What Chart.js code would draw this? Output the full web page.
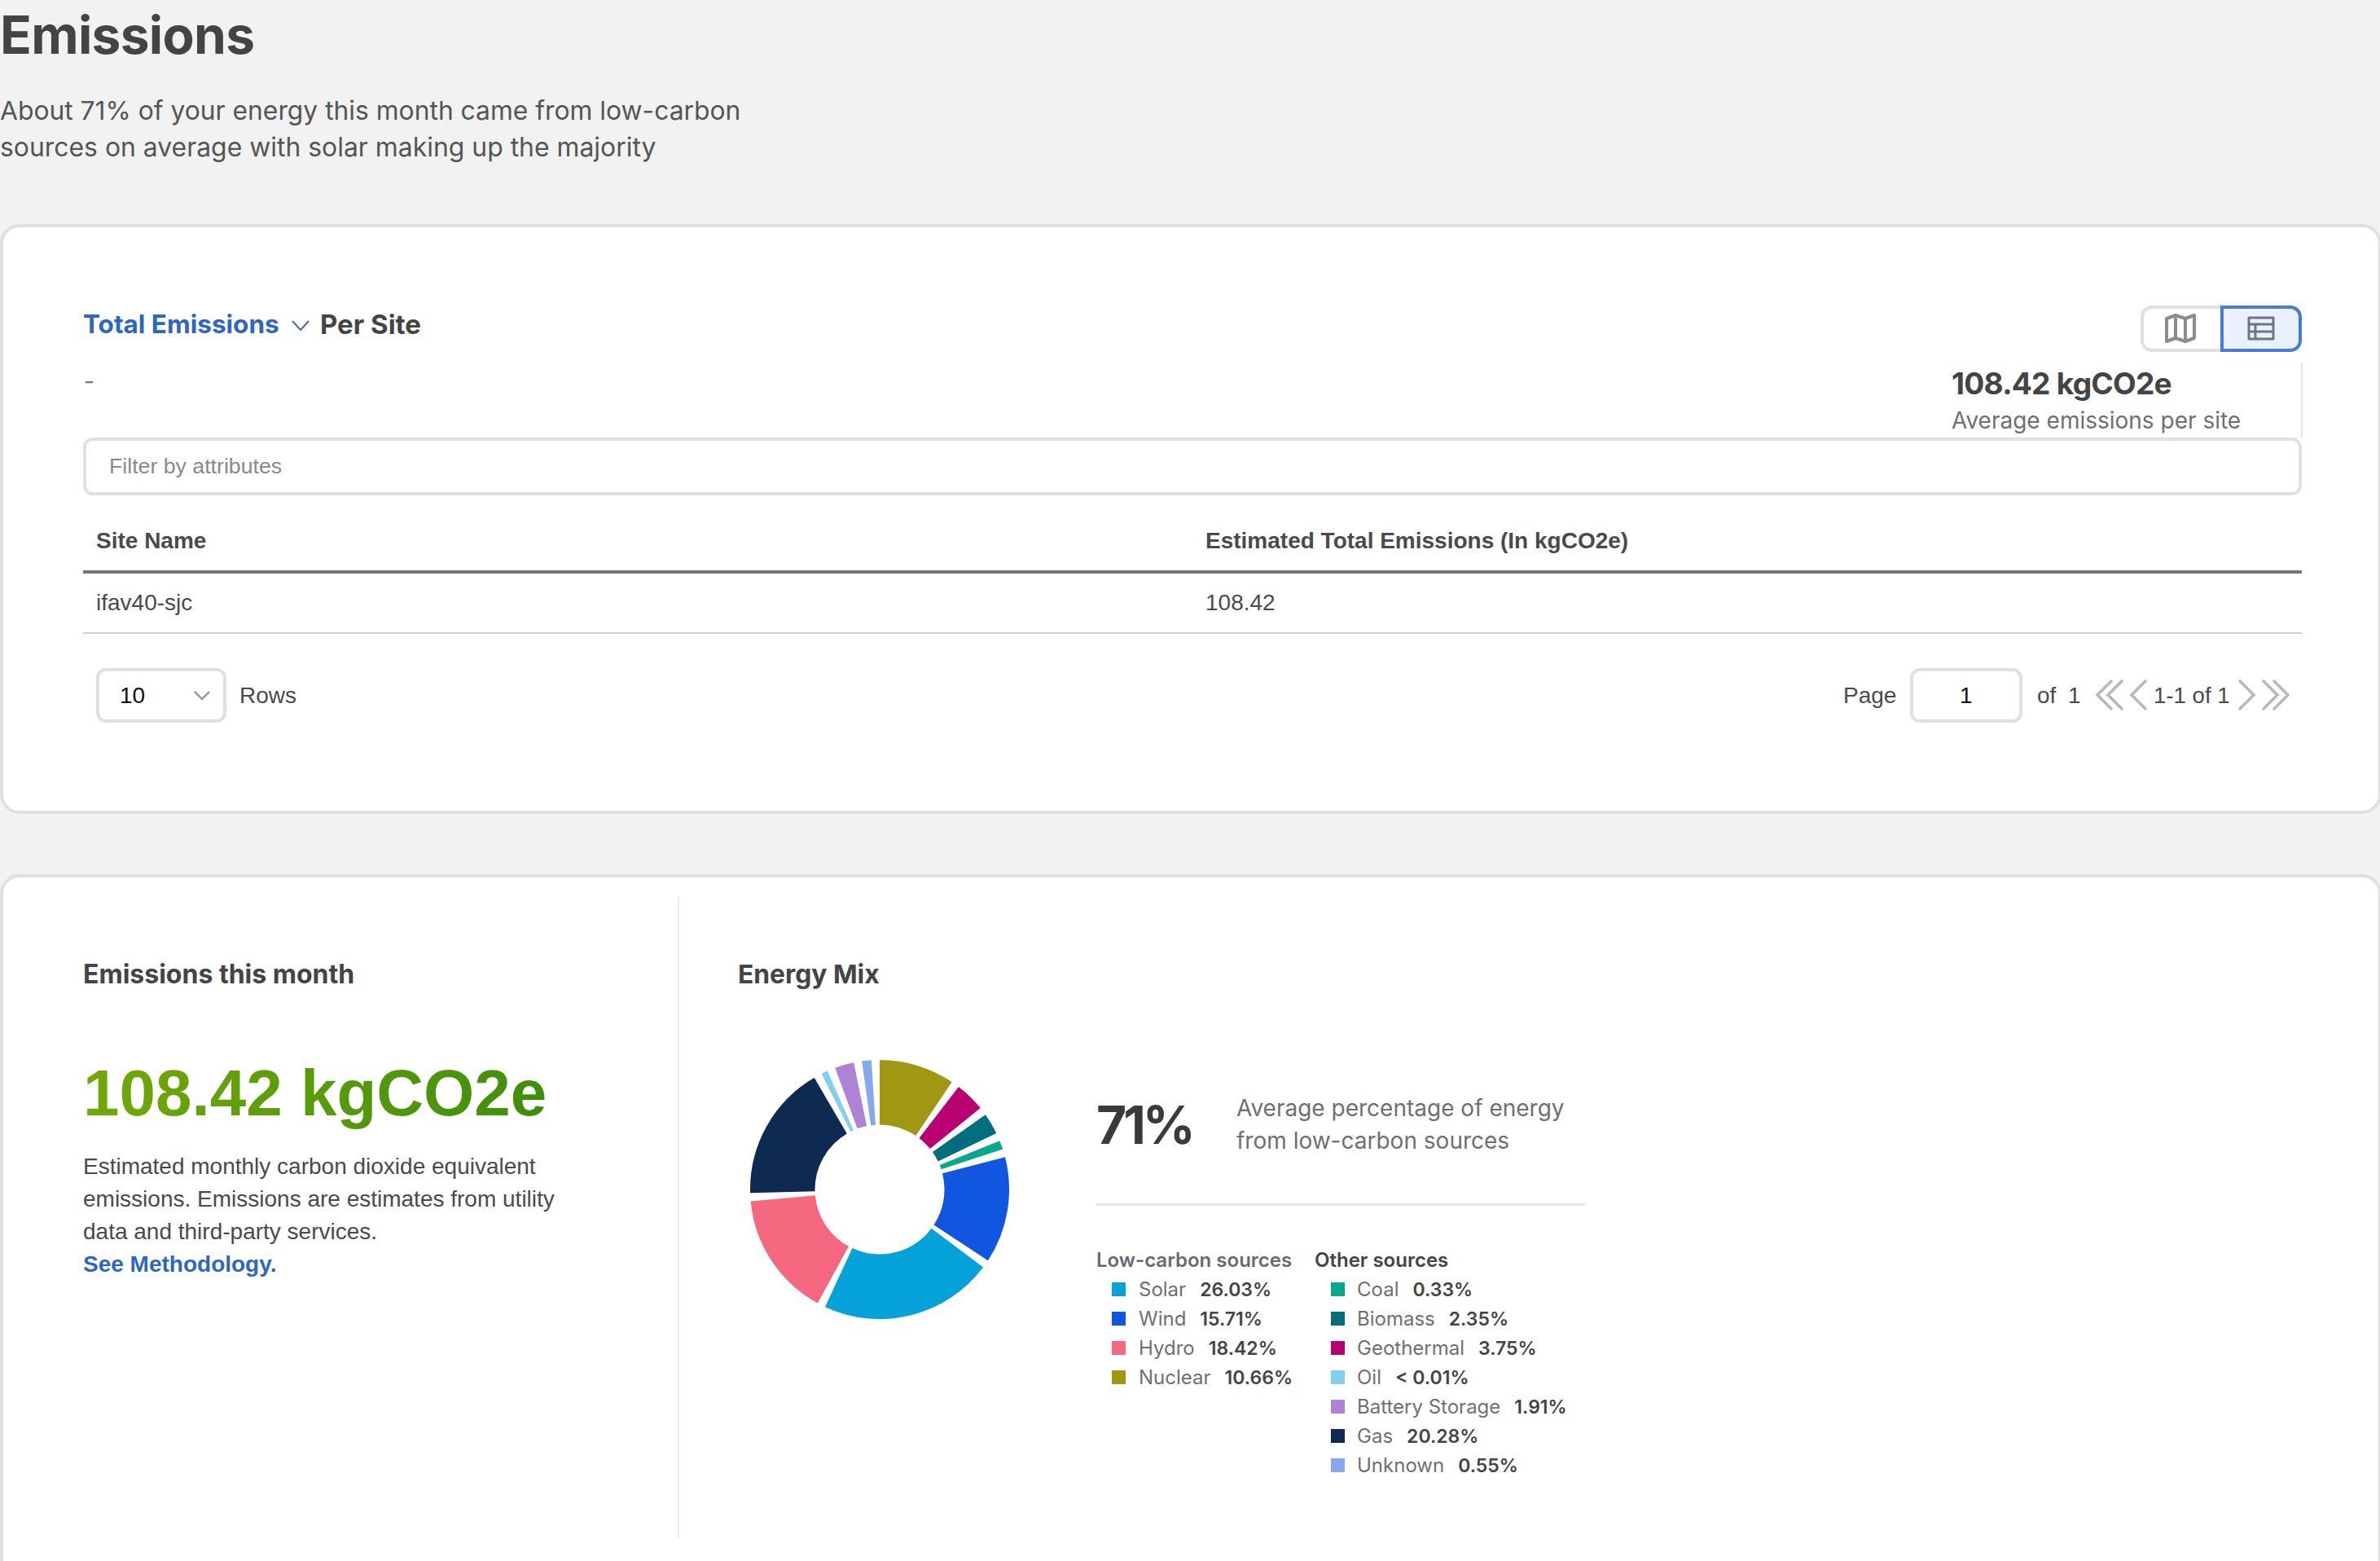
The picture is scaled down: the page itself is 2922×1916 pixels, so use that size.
<!DOCTYPE html>
<html>
<head>
<meta charset="utf-8">
<title>Emissions</title>
<script src="https://cdn.jsdelivr.net/npm/chart.js@4"></script>
<style>
html, body { margin: 0; padding: 0; }
body { width: 2922px; height: 1916px; position: relative; overflow: hidden; background: #f2f2f2; color: #444; font-family: Inter, sans-serif; }
.t { position: absolute; white-space: nowrap; line-height: 1; transform: translateY(-50%); }
.arial { font-family: "Liberation Sans", sans-serif; font-size: 28px; color: #4a4a4a; }
.head { font-size: 32px; font-weight: 650; }
.card { position: absolute; left: 0; width: 2924px; background: #fff; border: 4px solid #e0e0e0; border-radius: 24px; box-sizing: border-box; }
.box { position: absolute; box-sizing: border-box; background: #fff; border: 4px solid #e0e0e0; border-radius: 12px; }
.rule { position: absolute; }
svg { position: absolute; overflow: visible; }
#legend .t { font-size: 24px; color: #6f6f6f; }
#legend b { font-weight: 600; font-size: 23px; color: #444; margin-left: 17px; }
#legend .hd { font-weight: 600; }
.sw { position: absolute; width: 17px; height: 17px; }
</style>
</head>
<body>

<div class="t" style="left:0;top:43px;font-size:64px;font-weight:650;letter-spacing:-0.7px">Emissions</div>
<div class="t" style="left:0;top:136px;font-size:31.8px;color:#555">About 71% of your energy this month came from low-carbon</div>
<div class="t" style="left:0;top:180.500px;font-size:31.9px;color:#555">sources on average with solar making up the majority</div>

<div class="card" style="top:275px;height:724px"></div>
<div class="t head" style="left:102px;top:398px;color:#2f66c0;font-size:31.5px">Total Emissions</div>
<svg style="left:358px;top:392px" width="22" height="16"><polyline points="1,2 11,13 21,2" fill="none" stroke="#4a6a9c" stroke-width="2"/></svg>
<div class="t head" style="left:393px;top:398px;font-size:33px">Per Site</div>
<div class="t" style="left:103px;top:468px;font-size:28px;color:#777">-</div>

<div class="box" style="left:2628px;top:375px;width:102px;height:57px;border-radius:14px 0 0 14px"></div>
<svg style="left:2658px;top:385px" width="38" height="36" viewBox="0 0 38 36"><path d="M2 6 L13 2 L25 6 L36 2 V30 L25 34 L13 30 L2 34 Z M13 2 V30 M25 6 V34" fill="none" stroke="#8c8c8c" stroke-width="4" stroke-linejoin="round"/></svg>
<div class="box" style="left:2726px;top:375px;width:100px;height:57px;border-radius:0 14px 14px 0;border-color:#4a7bd6;background:#eaf1fd"></div>
<svg style="left:2759px;top:388px" width="34" height="30" viewBox="0 0 34 30"><path d="M2 2 H32 V28 H2 Z M2 10 H32 M2 19 H32 M10 10 V28" fill="none" stroke="#6f7480" stroke-width="3" stroke-linejoin="round"/></svg>

<div class="t" style="left:2396px;top:471px;font-size:37.2px;font-weight:650;letter-spacing:-0.8px">108.42 kgCO2e</div>
<div class="t" style="left:2396px;top:516px;font-size:28px;color:#6f6f6f">Average emissions per site</div>
<div class="rule" style="left:2825px;top:445px;width:2px;height:92px;background:#e4e4e4"></div>

<div class="box" style="left:102px;top:537px;width:2724px;height:71px"></div>
<div class="t arial" style="left:134px;top:572px;font-size:26.7px;color:#8a8a8a">Filter by attributes</div>

<div class="t arial" style="left:118px;top:664px;font-weight:700">Site Name</div>
<div class="t arial" style="left:1480px;top:664px;font-weight:700">Estimated Total Emissions (In kgCO2e)</div>
<div class="rule" style="left:102px;top:700px;width:2724px;height:4px;background:#757575"></div>
<div class="t arial" style="left:118px;top:740px">ifav40-sjc</div>
<div class="t arial" style="left:1480px;top:740px">108.42</div>
<div class="rule" style="left:102px;top:776px;width:2724px;height:2px;background:#cfcfcf"></div>

<div class="box" style="left:118px;top:820px;width:160px;height:67px"></div>
<div class="t arial" style="left:147px;top:854px;color:#111">10</div>
<svg style="left:238px;top:848px" width="20" height="12"><polyline points="1,1 10,10 19,1" fill="none" stroke="#999" stroke-width="2.5"/></svg>
<div class="t arial" style="left:294px;top:854px">Rows</div>

<div class="t arial" style="left:2263px;top:854px">Page</div>
<div class="box" style="left:2345px;top:820px;width:138px;height:67px"></div>
<div class="t arial" style="left:2406px;top:854px;color:#111">1</div>
<div class="t arial" style="left:2501px;top:854px">of</div>
<div class="t arial" style="left:2539px;top:854px">1</div>
<svg style="left:2573px;top:834px" width="240" height="38" fill="none" stroke="#b8b8b8" stroke-width="3.5">
  <polyline points="20,1 2,19 20,37"/><polyline points="33,1 15,19 33,37"/>
  <polyline points="62,1 44,19 62,37"/>
  <polyline points="176,1 194,19 176,37"/>
  <polyline points="205,1 223,19 205,37"/><polyline points="218,1 236,19 218,37"/>
</svg>
<div class="t arial" style="left:2644px;top:854px;font-size:27.6px">1-1 of 1</div>

<div class="card" style="top:1073px;height:880px"></div>
<div class="rule" style="left:832px;top:1101px;width:2px;height:787px;background:#ebebeb"></div>
<div class="t head" style="left:102px;top:1196px">Emissions this month</div>
<div class="t head" style="left:906px;top:1196px;font-size:31.8px">Energy Mix</div>

<div class="t arial" style="left:102px;top:1342px;font-size:80px;font-weight:700;background:linear-gradient(95deg,#74a80a,#3e8e0c);-webkit-background-clip:text;background-clip:text;color:transparent;padding:6px 0">108.42 kgCO2e</div>
<div class="t arial" style="left:102px;top:1432px">Estimated monthly carbon dioxide equivalent</div>
<div class="t arial" style="left:102px;top:1472px">emissions. Emissions are estimates from utility</div>
<div class="t arial" style="left:102px;top:1512px">data and third-party services.</div>
<div class="t arial" style="left:102px;top:1552px;font-weight:700;color:#2f66c0">See Methodology.</div>

<div style="position:absolute;left:921px;top:1301px;width:318px;height:318px"><canvas id="ring"></canvas></div>

<div class="t" style="left:1346px;top:1381px;font-size:64px;font-weight:700;letter-spacing:-4px;color:#3a3a3a">71%</div>
<div class="t" style="left:1518px;top:1360px;font-size:28px;color:#6f6f6f">Average percentage of energy</div>
<div class="t" style="left:1518px;top:1400px;font-size:28px;color:#6f6f6f">from low-carbon sources</div>
<div class="rule" style="left:1346px;top:1477px;width:600px;height:3px;background:#e6e6e6"></div>

<div id="legend">
  <div class="t hd" style="left:1346px;top:1547px;color:#666b73">Low-carbon sources</div>
  <div class="t hd" style="left:1614px;top:1547px;color:#444">Other sources</div>
</div>

<script>
// slice order on the ring, clockwise from 12 o'clock
const ringNames = ["Nuclear", "Geothermal", "Biomass", "Coal", "Wind", "Solar", "Hydro", "Gas", "Oil", "Battery Storage", "Unknown"];
// share of the circle each visible slice takes, measured off the ring (not the same as the printed figures)
const ringShares = [9.42, 3.75, 2.64, 1.11, 13.25, 21.67, 15.61, 17.0, 0.8, 2.39, 1.17];
const ringColors = ["#a09712", "#b80071", "#006e7f", "#0aa88a", "#1056e0", "#04a2d9", "#f56880", "#0e2a50", "#85cfea", "#ae83d6", "#85a9ec"];
const slotGap = 1.017;

// legend figures as printed
const lowCarbonNames = ["Solar", "Wind", "Hydro", "Nuclear"];
const lowCarbonText = ["26.03%", "15.71%", "18.42%", "10.66%"];
const otherNames = ["Coal", "Biomass", "Geothermal", "Oil", "Battery Storage", "Gas", "Unknown"];
const otherText = ["0.33%", "2.35%", "3.75%", "< 0.01%", "1.91%", "20.28%", "0.55%"];

// every slice is followed by a see-through slot, that gives the wedge shaped gaps
const ringData = ringShares.flatMap(v => [v, slotGap]);
const ringFill = ringColors.flatMap(c => [c, "rgba(0,0,0,0)"]);
const ringLabels = ringNames.flatMap(n => [n, ""]);

new Chart(document.getElementById("ring"), {
  type: "doughnut",
  data: {
    labels: ringLabels,
    datasets: [{ data: ringData, backgroundColor: ringFill, borderWidth: 0, hoverOffset: 0 }]
  },
  options: {
    responsive: true,
    maintainAspectRatio: false,
    animation: false,
    cutout: "50%",
    rotation: 0,
    plugins: { legend: { display: false }, tooltip: { enabled: false } }
  }
});

function addLegendRows(names, text, swatchX, textX) {
  const legend = document.getElementById("legend");
  names.forEach((name, i) => {
    const y = 1583 + i * 36;
    const sw = document.createElement("div");
    sw.className = "sw";
    sw.style.left = swatchX + "px";
    sw.style.top = (y - 9) + "px";
    sw.style.background = ringColors[ringNames.indexOf(name)];
    legend.appendChild(sw);
    const row = document.createElement("div");
    row.className = "t";
    row.style.left = textX + "px";
    row.style.top = y + "px";
    row.innerHTML = name + "<b>" + text[i].replace("<", "&lt;") + "</b>";
    legend.appendChild(row);
  });
}
addLegendRows(lowCarbonNames, lowCarbonText, 1365, 1398);
addLegendRows(otherNames, otherText, 1634, 1666);
</script>
</body>
</html>
